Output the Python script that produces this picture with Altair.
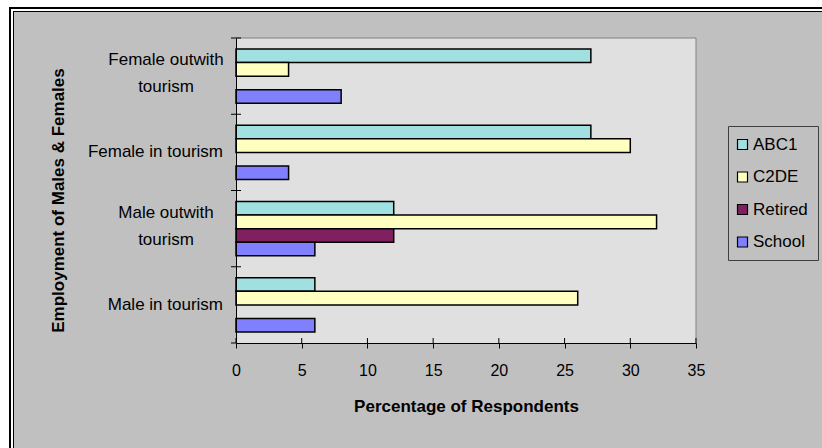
import altair as alt
import pandas as pd

# Survey results: share of respondents by social group
groups = ["Female outwith tourism", "Female in tourism", "Male outwith tourism", "Male in tourism"]
series = ["ABC1", "C2DE", "Retired", "School"]
abc1 = [27, 27, 12, 6]
c2de = [4, 30, 32, 26]
retired = [0, 0, 12, 0]
school = [8, 4, 6, 6]
x_ticks = [0, 5, 10, 15, 20, 25, 30, 35]
colors = ["#A0E0E0", "#FFFFC0", "#802060", "#8080FF"]

FONT = "Liberation Sans"
W, H = 460, 305
L, T = 236, 38  # plot origin inside the canvas

rows = []
for s, vals in zip(series, [abc1, c2de, retired, school]):
    for g, v in zip(groups, vals):
        rows.append({"group": g, "series": s, "value": v})
df = pd.DataFrame(rows)
bars_df = df[df["value"] > 0]
one = pd.DataFrame({"k": [0]})
labels_df = pd.DataFrame({"group": groups})
ticks_df = pd.DataFrame({"tick": x_ticks})

y_scale = alt.Scale(domain=groups, paddingInner=0, paddingOuter=0)
x_scale = alt.Scale(domain=[0, 35], nice=False)

X_AXIS = alt.Axis(
    values=x_ticks, grid=False, zindex=1, labelFlush=False,
    domainColor="black", tickColor="black", tickSize=5,
    labelFont=FONT, labelFontSize=16, labelColor="black", labelPadding=14,
    title="Percentage of Respondents", titleFont=FONT, titleFontSize=17,
    titleFontWeight="bold", titleColor="black",
    titleX=W / 2, titleY=68, titleAlign="center", titleBaseline="alphabetic",
)
Y_AXIS = alt.Axis(
    labels=False, ticks=False, grid=False, zindex=1, domainColor="black",
    title="Employment of Males & Females", titleFont=FONT, titleFontSize=17,
    titleFontWeight="bold", titleColor="black", titleAngle=270,
    titleX=-173, titleY=162, titleAlign="center", titleBaseline="alphabetic",
)


def box(x, x2, y, y2, **style):
    """A decorative rectangle given in canvas pixels."""
    return alt.Chart(one).mark_rect(**style).encode(
        x=alt.value(x - L), x2=alt.value(x2 - L), y=alt.value(y - T), y2=alt.value(y2 - T)
    )


# white margin outside the double border, then the two border lines
margin_left = box(0, 13, 0, 460, fill="white")
margin_top = box(0, 830, 0, 11, fill="white")
outer_v = box(9, 11, 7, 460, fill="black")
outer_h = box(9, 830, 7, 9, fill="black")
inner_v = box(13, 14, 11, 460, fill="black")
inner_h = box(13, 830, 11, 12, fill="black")

# plot-area border on the top and right edges
plot_top = alt.Chart(one).mark_rule(color="#808080").encode(
    x=alt.value(0), x2=alt.value(W), y=alt.value(0)
)
plot_right = alt.Chart(one).mark_rule(color="#808080").encode(
    x=alt.value(W), y=alt.value(0), y2=alt.value(H)
)

bars = alt.Chart(bars_df).mark_bar(stroke="black", strokeWidth=1.5).encode(
    x=alt.X("value:Q", scale=x_scale, axis=X_AXIS),
    y=alt.Y("group:N", sort=groups, scale=y_scale, axis=Y_AXIS),
    yOffset=alt.YOffset("series:N", sort=series,
                        scale=alt.Scale(domain=series, paddingInner=0, paddingOuter=0.8)),
    color=alt.Color(
        "series:N",
        scale=alt.Scale(domain=series, range=colors),
        legend=alt.Legend(
            title=None, orient="none", legendX=492, legendY=88,
            symbolType="square", symbolSize=100, symbolStrokeColor="black", symbolStrokeWidth=1.2,
            symbolOffset=-4,
            labelFont=FONT, labelFontSize=17, labelColor="black", labelOffset=2,
            rowPadding=14.5, padding=10, strokeColor="#404040", fillColor="#C0C0C0",
        ),
    ),
)

# cross-style tick marks on both axes
y_ticks = alt.Chart(labels_df).mark_rule(color="black").encode(
    y=alt.Y("group:N", sort=groups, scale=y_scale, bandPosition=0, axis=Y_AXIS),
    x=alt.value(-5), x2=alt.value(5),
)
y_tick_end = alt.Chart(one).mark_rule(color="black").encode(
    y=alt.value(H), x=alt.value(-5), x2=alt.value(0)
)
x_ticks_up = alt.Chart(ticks_df).mark_rule(color="black").encode(
    x=alt.X("tick:Q", scale=x_scale, axis=X_AXIS),
    y=alt.value(H - 5), y2=alt.value(H),
)

# category labels: single-line ones right aligned, wrapped ones centred
label_single = alt.Chart(labels_df).transform_filter(
    "indexof(datum.group, 'outwith') < 0"
).mark_text(align="right", baseline="middle", font=FONT, fontSize=17, color="black").encode(
    y=alt.Y("group:N", sort=groups, scale=y_scale, axis=Y_AXIS),
    x=alt.value(-13),
    text="group:N",
)
label_wrapped = alt.Chart(labels_df).transform_filter(
    "indexof(datum.group, 'outwith') >= 0"
).transform_calculate(
    lab="replace(datum.group, 'outwith ', 'outwith|')"
).mark_text(align="center", baseline="middle", font=FONT, fontSize=17, color="black",
            lineBreak="|", lineHeight=27, dy=-16).encode(
    y=alt.Y("group:N", sort=groups, scale=y_scale, axis=Y_AXIS),
    x=alt.value(-70),
    text="lab:N",
)

chart = alt.layer(
    margin_left, margin_top, outer_v, outer_h, inner_v, inner_h,
    plot_top, plot_right, bars, y_ticks, y_tick_end, x_ticks_up,
    label_single, label_wrapped,
).properties(
    width=W,
    height=H,
    autosize=alt.AutoSizeParams(type="none"),
    padding={"left": L, "top": T, "right": 822 - L - W, "bottom": 448 - T - H},
    background="#C0C0C0",
).configure_view(fill="#E0E0E0", strokeWidth=0)

chart.save("out.html", embed_options={"renderer": "svg", "actions": False})
